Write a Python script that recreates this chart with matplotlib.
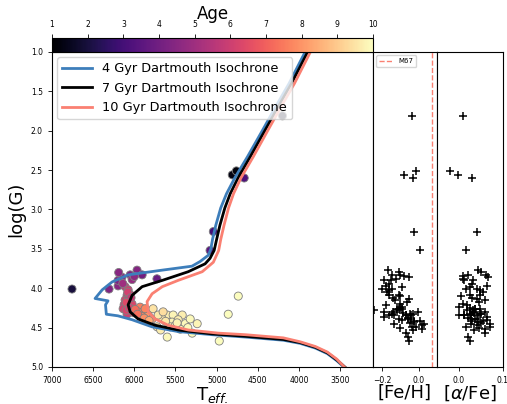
import numpy as np
import matplotlib
matplotlib.use("Agg")
import matplotlib.pyplot as plt

# Dartmouth isochrones (Teff, log g)
iso4_teff = [3925, 4120, 4285, 4440, 4625, 4780, 4880, 4950, 5010, 5050, 5070, 5100, 5200, 5300,
             5660, 6075, 6270, 6390, 6477, 6320, 6350, 6340, 6200, 6027, 5784, 5467, 5053, 4650,
             4190, 3985, 3800, 3655, 3540, 3410]
iso4_logg = [1.00, 1.40, 1.70, 1.99, 2.33, 2.60, 2.80, 2.98, 3.20, 3.38, 3.50, 3.58, 3.66, 3.72,
             3.77, 3.83, 3.92, 4.02, 4.13, 4.16, 4.21, 4.33, 4.35, 4.40, 4.49, 4.55, 4.59, 4.62,
             4.66, 4.70, 4.76, 4.83, 4.92, 5.04]

iso7_teff = [3894, 4090, 4254, 4409, 4591, 4740, 4835, 4900, 4960, 5000, 5030, 5080, 5140, 5345,
             5660, 5905, 6027, 6075, 6051, 5954, 5747, 5467, 5053, 4650, 4190, 3985, 3800, 3655,
             3540, 3410]
iso7_logg = [1.00, 1.40, 1.70, 1.99, 2.33, 2.60, 2.80, 2.98, 3.20, 3.38, 3.52, 3.62, 3.69, 3.79,
             3.90, 3.98, 4.09, 4.21, 4.30, 4.39, 4.47, 4.53, 4.58, 4.61, 4.65, 4.69, 4.75, 4.82,
             4.91, 5.03]

iso10_teff = [3861, 4055, 4220, 4375, 4555, 4705, 4795, 4855, 4910, 4950, 4975, 5040, 5175, 5467,
              5660, 5784, 5845, 5832, 5747, 5589, 5345, 4980, 4650, 4190, 3985, 3800, 3655, 3540,
              3420]
iso10_logg = [1.00, 1.40, 1.70, 1.99, 2.33, 2.60, 2.80, 2.98, 3.20, 3.38, 3.52, 3.67, 3.79, 3.90,
              3.98, 4.07, 4.17, 4.30, 4.39, 4.47, 4.53, 4.57, 4.59, 4.63, 4.68, 4.74, 4.81, 4.90,
              5.03]

# Stellar sample
star_teff = [4200, 4810, 4760, 4665, 5040, 5080, 6757,
             6307, 6197, 6197, 6150, 6050, 5967, 5905, 6027, 5725, 6190, 6000,
             6112, 6075, 6088, 6112, 6075, 6124, 6088, 6027, 6136, 6051, 6100,
             6080, 6040, 6100, 6060, 6010, 6140,
             5930, 5893, 5832, 5954, 5869, 5784, 5905, 5990, 5960, 5880, 5820,
             5772, 5601, 5528, 5418, 5662, 5540, 5723, 5382, 5236, 5467, 5321, 5710, 5564,
             4737, 4859, 4968, 5443, 5297, 5650, 5500, 5620, 5480, 5350, 5680, 5600]
star_logg = [1.81, 2.56, 2.51, 2.60, 3.28, 3.52, 4.01,
             4.01, 3.97, 3.90, 3.86, 3.83, 3.77, 3.83, 3.89, 3.88, 3.80, 3.85,
             3.98, 4.02, 4.09, 4.15, 4.14, 4.21, 4.33, 4.20, 4.26, 4.08, 4.28,
             4.05, 4.12, 4.18, 4.25, 4.31, 3.94,
             4.24, 4.30, 4.34, 4.30, 4.26, 4.39, 4.36, 4.27, 4.33, 4.38, 4.41,
             4.26, 4.34, 4.34, 4.34, 4.39, 4.43, 4.49, 4.45, 4.45, 4.40, 4.39, 4.34, 4.49,
             4.10, 4.33, 4.67, 4.52, 4.57, 4.30, 4.47, 4.42, 4.44, 4.50, 4.53, 4.62]
star_age = [1.5, 1.3, 1.2, 3.2, 3.0, 3.5, 2.0,
            4.3, 4.5, 4.3, 4.6, 4.2, 4.4, 4.0, 4.8, 3.8, 4.5, 4.6,
            5.8, 6.0, 5.7, 6.2, 6.0, 5.9, 6.0, 6.3, 6.1, 5.9, 6.2,
            6.1, 5.8, 6.4, 6.2, 6.5, 5.0,
            7.6, 7.8, 8.0, 7.5, 7.7, 8.2, 7.6, 7.2, 7.3, 7.9, 8.4,
            9.5, 9.7, 9.8, 9.7, 9.6, 9.8, 9.5, 9.9, 9.8, 9.7, 9.9, 9.6, 9.8,
            10.0, 10.0, 10.0, 9.9, 9.9, 9.4, 9.7, 9.6, 9.8, 9.9, 9.7, 9.9]
star_feh = [-0.038, -0.080, -0.016, -0.030, -0.027, 0.005, -0.200,
            -0.145, -0.180, -0.150, -0.055, -0.100, -0.170, -0.145, -0.190, -0.125, -0.110, -0.080,
            -0.090, -0.160, -0.110, -0.130, -0.055, -0.180, -0.145, -0.100, -0.120, -0.160, -0.245,
            -0.175, -0.140, -0.065, -0.105, -0.085, -0.165,
            -0.090, -0.190, -0.070, -0.005, -0.110, -0.108, -0.190, -0.120, -0.030, -0.060, -0.025,
            -0.090, -0.043, -0.070, -0.135, -0.043, -0.027, -0.038, -0.135, 0.027, -0.090, -0.060,
            -0.160, -0.016,
            -0.100, -0.050, -0.054, 0.016, -0.070, -0.140, 0.020, 0.005, -0.045, -0.100, -0.030,
            -0.060]
star_afe = [0.010, -0.002, -0.020, 0.030, 0.040, 0.016, 0.016,
            0.040, 0.064, 0.012, 0.067, 0.020, 0.043, 0.062, 0.031, 0.008, 0.050, 0.010,
            0.024, 0.048, 0.024, 0.060, 0.040, 0.019, 0.048, 0.008, 0.036, 0.048, 0.031,
            0.055, 0.030, 0.045, 0.025, 0.035, 0.030,
            0.000, 0.031, 0.012, 0.060, 0.036, 0.028, 0.064, 0.019, 0.050, 0.020, 0.055,
            0.048, 0.012, 0.028, 0.043, 0.040, 0.043, 0.016, 0.071, 0.028, 0.064, 0.036,
            0.000, 0.071,
            0.005, 0.024, 0.024, 0.060, 0.060, 0.031, 0.040, 0.030, 0.050, 0.045, 0.035, 0.020]

m67_feh = 0.075
age_ticks = list(range(1, 11))
logg_ticks = [1.0, 1.5, 2.0, 2.5, 3.0, 3.5, 4.0, 4.5, 5.0]
teff_ticks = [7000, 6500, 6000, 5500, 5000, 4500, 4000, 3500]

fig = plt.figure(figsize=(5.07, 4.04), dpi=100)
ax = fig.add_axes([0.1026, 0.0916, 0.6331, 0.7797])
ax_fe = fig.add_axes([0.7357, 0.0916, 0.1262, 0.7797], sharey=ax)
ax_al = fig.add_axes([0.8619, 0.0916, 0.1302, 0.7797], sharey=ax)
cax = fig.add_axes([0.1026, 0.8713, 0.6331, 0.0347])

sc = ax.scatter(star_teff, star_logg, c=star_age, cmap="magma", vmin=1, vmax=10,
                s=34, edgecolors="gray", linewidths=0.6)
ax.plot(iso4_teff, iso4_logg, color="#3d7ebb", lw=2.0, label="4 Gyr Dartmouth Isochrone")
ax.plot(iso7_teff, iso7_logg, color="black", lw=2.0, label="7 Gyr Dartmouth Isochrone")
ax.plot(iso10_teff, iso10_logg, color="salmon", lw=2.0, label="10 Gyr Dartmouth Isochrone")

ax.set_xlim(7000, 3100)
ax.set_ylim(5.0, 1.0)
ax.set_xticks(teff_ticks)
ax.set_yticks(logg_ticks)
ax.tick_params(labelsize=5.5, length=3, width=0.6)
ax.set_xlabel(r"T$_{eff.}$", fontsize=13, labelpad=0)
ax.set_ylabel("log(G)", fontsize=13, labelpad=4)
ax.legend(loc="upper left", fontsize=9.3, handlelength=2.3, borderaxespad=0.4)

ax_fe.scatter(star_feh, star_logg, marker="+", color="black", s=40, linewidths=1.1)
ax_fe.axvline(m67_feh, color="salmon", ls="--", lw=1.0, label="M67")
ax_fe.set_xlim(-0.25, 0.1)
ax_fe.set_xticks([-0.2, 0.0])
ax_fe.legend(loc="upper left", fontsize=5, handlelength=2.0)
ax_fe.set_xlabel("[Fe/H]", fontsize=13, labelpad=-1)

ax_al.scatter(star_afe, star_logg, marker="+", color="black", s=40, linewidths=1.1)
ax_al.set_xlim(-0.05, 0.1)
ax_al.set_xticks([0.0, 0.1])
ax_al.set_xlabel(r"[$\alpha$/Fe]", fontsize=13, labelpad=-1)

for a in (ax_fe, ax_al):
    a.tick_params(axis="x", labelsize=5.5, length=3, width=0.6)
    a.tick_params(axis="y", left=False, labelleft=False)

cb = fig.colorbar(sc, cax=cax, orientation="horizontal")
cb.set_ticks(age_ticks)
cax.xaxis.set_ticks_position("top")
cax.xaxis.set_label_position("top")
cax.tick_params(labelsize=5.5, length=3, width=0.6)
cb.set_label("Age", fontsize=12, labelpad=1)
cb.outline.set_linewidth(0.8)

fig.savefig("out.png", dpi=100)
